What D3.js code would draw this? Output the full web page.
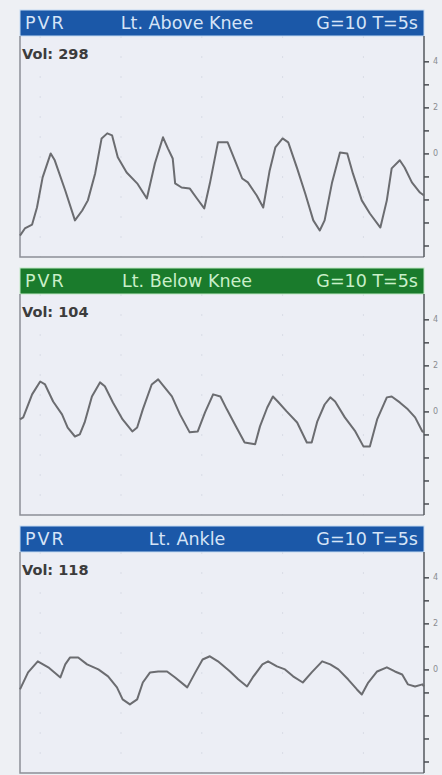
<!DOCTYPE html>
<html>
<head>
<meta charset="utf-8">
<script src="https://cdn.jsdelivr.net/npm/d3@7"></script>
<style>
  html, body { margin: 0; padding: 0; background: #eef0f4; }
  svg { display: block; }
</style>
</head>
<body>
<script>
// panel headers
const sites = ['Lt. Above Knee', 'Lt. Below Knee', 'Lt. Ankle'];
const volumes = [298, 104, 118];
const headerColors = ['#1b58a8', '#1a7b2c', '#1b58a8'];
const gainLabel = 'G=10 T=5s';

// waveforms, [seconds, amplitude]
const aboveKnee = [
  [0, -3.57], [0.06, -3.26], [0.15, -3.09], [0.21, -2.35], [0.28, -1.04], [0.38, 0], [0.43, -0.3],
  [0.56, -1.61], [0.68, -2.91], [0.77, -2.48], [0.84, -2.04], [0.93, -0.87], [1.01, 0.65], [1.08, 0.87],
  [1.14, 0.78], [1.21, -0.17], [1.32, -0.83], [1.45, -1.3], [1.57, -1.96], [1.67, -0.43], [1.77, 0.7],
  [1.83, 0.22], [1.89, -0.22], [1.92, -1.3], [2.0, -1.48], [2.1, -1.52], [2.19, -1.96], [2.28, -2.39],
  [2.35, -1.3], [2.45, 0.48], [2.57, 0.48], [2.66, -0.3], [2.75, -1.09], [2.82, -1.26], [2.93, -1.83],
  [3.01, -2.35], [3.09, -0.74], [3.16, 0.26], [3.25, 0.65], [3.32, 0.48], [3.43, -0.65], [3.53, -1.74],
  [3.63, -2.91], [3.71, -3.35], [3.77, -2.91], [3.86, -1.3], [3.96, 0.04], [4.05, 0], [4.12, -0.87],
  [4.23, -2.04], [4.33, -2.61], [4.46, -3.22], [4.54, -2.04], [4.6, -0.65], [4.7, -0.3], [4.76, -0.61],
  [4.85, -1.26], [4.95, -1.7], [5.0, -1.83]
];
const belowKnee = [
  [0, -0.35], [0.04, -0.26], [0.15, 0.74], [0.25, 1.3], [0.31, 1.17], [0.41, 0.43], [0.52, -0.13],
  [0.59, -0.7], [0.68, -1.09], [0.74, -1.0], [0.8, -0.48], [0.89, 0.65], [0.99, 1.26], [1.05, 1.09],
  [1.15, 0.39], [1.27, -0.35], [1.39, -0.87], [1.45, -0.7], [1.52, 0.09], [1.63, 1.17], [1.71, 1.39],
  [1.79, 1.04], [1.88, 0.65], [1.98, -0.13], [2.1, -0.91], [2.2, -0.87], [2.29, -0.04], [2.39, 0.74],
  [2.48, 0.65], [2.56, 0.09], [2.66, -0.57], [2.78, -1.35], [2.91, -1.43], [2.97, -0.65], [3.06, 0.17],
  [3.13, 0.65], [3.19, 0.43], [3.3, 0], [3.43, -0.48], [3.55, -1.35], [3.61, -1.35], [3.68, -0.43],
  [3.77, 0.3], [3.84, 0.61], [3.9, 0.43], [4.02, -0.26], [4.15, -0.87], [4.25, -1.52], [4.33, -1.52],
  [4.42, -0.35], [4.54, 0.61], [4.6, 0.65], [4.7, 0.39], [4.8, 0.09], [4.89, -0.26], [4.98, -0.87],
  [5.0, -0.91]
];
const ankle = [
  [0, -0.87], [0.1, -0.13], [0.22, 0.35], [0.35, 0.09], [0.5, -0.35], [0.56, 0.22], [0.62, 0.52],
  [0.72, 0.52], [0.83, 0.22], [0.97, 0], [1.09, -0.3], [1.2, -0.78], [1.27, -1.3], [1.36, -1.52],
  [1.45, -1.3], [1.52, -0.57], [1.61, -0.13], [1.71, -0.09], [1.82, -0.09], [1.92, -0.35], [2.07, -0.78],
  [2.17, -0.13], [2.26, 0.43], [2.35, 0.57], [2.45, 0.35], [2.6, -0.09], [2.7, -0.43], [2.81, -0.74],
  [2.88, -0.35], [3.0, 0.22], [3.07, 0.35], [3.18, 0.13], [3.28, 0], [3.38, -0.3], [3.5, -0.57],
  [3.61, -0.13], [3.74, 0.35], [3.84, 0.22], [3.94, 0], [4.06, -0.43], [4.17, -0.87], [4.23, -1.09],
  [4.31, -0.57], [4.42, -0.09], [4.54, 0.09], [4.64, -0.09], [4.73, -0.22], [4.8, -0.65], [4.89, -0.74],
  [4.98, -0.65], [5.0, -0.74]
];
const waves = [aboveKnee, belowKnee, ankle];

// right axis
const yTicks = [-4, -3, -2, -1, 0, 1, 2, 3, 4];
const yTickLabels = [4, 2, 0];

const width = 442;
const height = 775;
const left = 20;
const right = 424;
const headerH = 26;
const plotH = 221;
const panelStep = 258;
const firstTop = 10;

function main() {
  const svg = d3.select('body').append('svg').attr('width', width).attr('height', height);

  const xScale = d3.scaleLinear().domain([0, 5]).range([left, right]);

  sites.forEach((site, i) => {
    const top = firstTop + i * panelStep;
    drawPanel(svg, xScale, top, i);
  });
}

function drawPanel(svg, xScale, top, i) {
  const plotTop = top + headerH;
  const plotBottom = plotTop + plotH;
  const yScale = d3.scaleLinear().domain([-4.5, 5.1]).range([plotBottom, plotTop]);

  const g = svg.append('g');

  g.append('rect')
    .attr('x', left)
    .attr('y', plotTop)
    .attr('width', right - left)
    .attr('height', plotH)
    .attr('fill', '#eceef5');

  // faint chart paper grid
  g.append('g')
    .selectAll('line')
    .data(d3.range(0.25, 5, 1))
    .join('line')
    .attr('x1', d => xScale(d))
    .attr('x2', d => xScale(d))
    .attr('y1', plotTop)
    .attr('y2', plotBottom)
    .attr('stroke', '#d9dce6')
    .attr('stroke-dasharray', '2 18')
    .attr('stroke-width', 1);

  // header
  g.append('rect')
    .attr('x', left)
    .attr('y', top)
    .attr('width', right - left)
    .attr('height', headerH)
    .attr('fill', headerColors[i])
    .attr('stroke', i === 1 ? '#bfe8c4' : '#c4daf2')
    .attr('stroke-width', 1);

  const textColor = i === 1 ? '#c9efc9' : '#d6e4f7';
  const header = g
    .append('g')
    .attr('font-family', 'DejaVu Sans, sans-serif')
    .attr('font-size', 17.5)
    .attr('fill', textColor);

  header.append('text').attr('x', left + 5).attr('y', top + 19).attr('letter-spacing', 2).text('PVR');
  header.append('text').attr('x', 187).attr('y', top + 19).attr('text-anchor', 'middle').text(sites[i]);
  header.append('text').attr('x', right - 6).attr('y', top + 19).attr('text-anchor', 'end').text(gainLabel);

  g.append('text')
    .attr('x', left + 2)
    .attr('y', plotTop + 23)
    .attr('font-family', 'DejaVu Sans, sans-serif')
    .attr('font-weight', 'bold')
    .attr('font-size', 14.5)
    .attr('fill', '#3c3c3c')
    .text(`Vol: ${volumes[i]}`);

  // left and bottom frame
  g.append('path')
    .attr('d', `M${left},${plotTop}V${plotBottom}H${right}`)
    .attr('fill', 'none')
    .attr('stroke', '#8c8f96')
    .attr('stroke-width', 1.5);

  const axis = d3
    .axisRight(yScale)
    .tickValues(yTicks)
    .tickSize(5)
    .tickPadding(4)
    .tickFormat(d => (yTickLabels.includes(d) ? String(d) : ''));

  const ax = g.append('g').attr('transform', `translate(${right},0)`).call(axis);
  ax.select('.domain').attr('d', `M0,${plotTop}V${plotBottom}`).attr('stroke', '#55585e').attr('stroke-width', 1.5);
  ax.selectAll('.tick line').attr('stroke', '#4a4d52').attr('stroke-width', 1.5);
  ax.selectAll('.tick text').attr('fill', '#8a8c91').attr('font-size', 8).attr('font-family', 'DejaVu Sans, sans-serif');

  const line = d3
    .line()
    .x(d => xScale(d[0]))
    .y(d => yScale(d[1]))
    .curve(d3.curveLinear);

  g.append('path')
    .datum(waves[i])
    .attr('d', line)
    .attr('fill', 'none')
    .attr('stroke', '#6b6c70')
    .attr('stroke-width', 2)
    .attr('stroke-linejoin', 'round');
}

main();
</script>
</body>
</html>
